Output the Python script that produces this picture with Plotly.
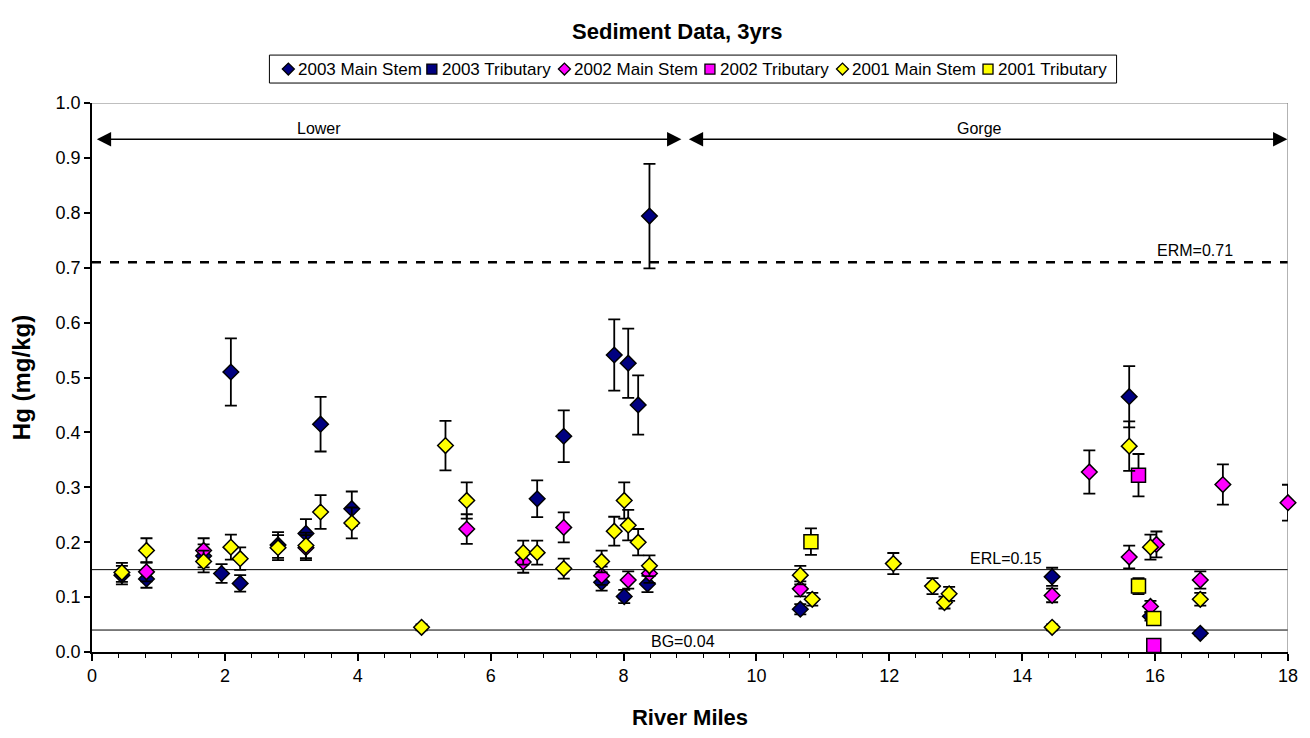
import plotly.graph_objects as go

# ---- Sediment mercury data (river mile, Hg mg/kg) ----
ms2003_x = [0.45, 0.82, 1.68, 1.95, 2.09, 2.23, 2.80, 3.22, 3.44, 3.91, 6.70, 7.10,
            7.67, 7.86, 8.01, 8.07, 8.22, 8.36, 8.39, 10.66, 14.45, 15.61, 15.93, 16.68]
ms2003_y = [0.140, 0.133, 0.175, 0.143, 0.510, 0.125, 0.195, 0.216, 0.415, 0.261, 0.279, 0.393,
            0.127, 0.541, 0.101, 0.526, 0.450, 0.124, 0.794, 0.078, 0.137, 0.465, 0.065, 0.034]

# no tributary samples were collected in 2003
tr2003_x = []
tr2003_y = []

ms2002_x = [0.82, 1.68, 3.22, 5.64, 6.49, 7.10, 7.67, 8.07, 8.39, 10.66, 14.45, 15.01,
            15.61, 15.93, 16.02, 16.68, 17.02, 18.00]
ms2002_y = [0.146, 0.185, 0.190, 0.224, 0.164, 0.227, 0.139, 0.131, 0.143, 0.115, 0.103, 0.328,
            0.173, 0.083, 0.196, 0.131, 0.305, 0.272]

tr2002_x = [15.75, 15.98]
tr2002_y = [0.322, 0.012]

ms2001_x = [0.45, 0.82, 1.68, 2.09, 2.23, 2.80, 3.22, 3.44, 3.91, 4.96, 5.32, 5.64, 6.49,
            6.70, 7.10, 7.67, 7.86, 8.01, 8.07, 8.22, 8.39, 10.66, 10.84, 12.06, 12.65,
            12.83, 12.90, 14.45, 15.61, 15.93, 16.68]
ms2001_y = [0.145, 0.185, 0.165, 0.191, 0.170, 0.190, 0.194, 0.255, 0.235, 0.045, 0.376, 0.276, 0.181,
            0.181, 0.152, 0.165, 0.220, 0.276, 0.231, 0.200, 0.157, 0.140, 0.096, 0.161, 0.120,
            0.090, 0.106, 0.045, 0.375, 0.191, 0.096]

tr2001_x = [10.82, 15.75, 15.98]
tr2001_y = [0.201, 0.120, 0.061]

# analytical uncertainty, percent of value
err_pct = 12

# screening levels
erm = 0.71
erl = 0.15
bg = 0.04

FONT = "Liberation Sans"
NAVY = "#000080"
MAGENTA = "#FF00FF"
YELLOW = "#FFFF00"

# plot-area geometry in pixels
W, H = 1310, 738
ML, MR, MT, MB = 92, 18, 103, 85
PW, PH = W - ML - MR, H - MT - MB


def px_to_paper(px, py):
    return (px - ML) / PW, (H - MB - py) / PH


fig = go.Figure()

series = [
    ("2003 Main Stem", ms2003_x, ms2003_y, NAVY, "diamond"),
    ("2003 Tributary", tr2003_x, tr2003_y, NAVY, "square"),
    ("2002 Main Stem", ms2002_x, ms2002_y, MAGENTA, "diamond"),
    ("2002 Tributary", tr2002_x, tr2002_y, MAGENTA, "square"),
    ("2001 Main Stem", ms2001_x, ms2001_y, YELLOW, "diamond"),
    ("2001 Tributary", tr2001_x, tr2001_y, YELLOW, "square"),
]

for name, xs, ys, color, symbol in series:
    fig.add_trace(go.Scatter(
        x=xs, y=ys, mode="markers", name=name, showlegend=False,
        marker=dict(symbol=symbol, size=12 if symbol == "diamond" else 14, color=color,
                    line=dict(color="black", width=1.5)),
        error_y=dict(type="percent", value=err_pct, color="black",
                     thickness=1.8, width=6),
        cliponaxis=False,
    ))

# reference lines
fig.add_hline(y=erm, line=dict(color="black", width=2.5, dash="dash"), layer="below")
fig.add_hline(y=erl, line=dict(color="black", width=1), layer="below")
fig.add_hline(y=bg, line=dict(color="black", width=1), layer="below")

# plot-area border (top and right)
fig.add_shape(type="line", xref="x", yref="y", x0=0, x1=18, y0=1, y1=1,
              line=dict(color="#808080", width=1.2), layer="below")
fig.add_shape(type="line", xref="x", yref="y", x0=18, x1=18, y0=0, y1=1,
              line=dict(color="#808080", width=1.2), layer="below")

txt = dict(family=FONT, size=16, color="black")
fig.add_annotation(x=16.6, y=erm, text="ERM=0.71", showarrow=False, yanchor="bottom",
                   yshift=1, font=txt)
fig.add_annotation(x=13.75, y=erl, text="ERL=0.15", showarrow=False, yanchor="bottom",
                   yshift=1, font=txt)
fig.add_annotation(x=8.9, y=bg, text="BG=0.04", showarrow=False, yanchor="top",
                   yshift=-1, font=txt)

# reach extents
arrow_y = 0.934
for (x0, x1) in [(0.05, 8.87), (8.96, 17.99)]:
    fig.add_annotation(x=x1, y=arrow_y, ax=x0, ay=arrow_y, xref="x", yref="y",
                       axref="x", ayref="y", text="", showarrow=True,
                       arrowhead=2, startarrowhead=2, arrowside="end+start",
                       arrowsize=2.2, startarrowsize=2.2, arrowwidth=1.3,
                       arrowcolor="black", standoff=0, startstandoff=0)
fig.add_annotation(x=3.42, y=arrow_y, text="Lower", showarrow=False, yanchor="bottom",
                   yshift=0, font=txt)
fig.add_annotation(x=13.36, y=arrow_y, text="Gorge", showarrow=False, yanchor="bottom",
                   yshift=0, font=txt)

# ---- legend: boxed row of marker + label entries above the plot ----
bx0, by1 = px_to_paper(270, 55)
bx1, by0 = px_to_paper(1120, 83)
fig.add_shape(type="rect", xref="paper", yref="paper", x0=bx0, x1=bx1, y0=by0, y1=by1,
              line=dict(color="black", width=1), fillcolor="white", layer="above")
legend_px = [289, 433, 566, 712, 845, 991]
_, ly = px_to_paper(0, 69)
diamond_path = "M -6,0 L 0,6 L 6,0 L 0,-6 Z"
square_path = "M -5,-5 L 5,-5 L 5,5 L -5,5 Z"
for (name, _xs, _ys, color, symbol), cx in zip(series, legend_px):
    lx, _ = px_to_paper(cx, 69)
    fig.add_shape(type="path", xref="paper", yref="paper",
                  xsizemode="pixel", ysizemode="pixel", xanchor=lx, yanchor=ly,
                  path=diamond_path if symbol == "diamond" else square_path,
                  fillcolor=color, line=dict(color="black", width=1.3), layer="above")
    tx, _ = px_to_paper(cx + 8, 69)
    fig.add_annotation(x=tx, y=ly, xref="paper", yref="paper", text=name,
                       showarrow=False, xanchor="left", yanchor="middle",
                       font=dict(family=FONT, size=17, color="black"))

fig.update_layout(
    width=W, height=H,
    margin=dict(l=ML, r=MR, t=MT, b=MB),
    paper_bgcolor="white", plot_bgcolor="white",
    font=dict(family=FONT, size=18, color="black"),
    title=dict(text="<b>Sediment Data, 3yrs</b>", x=0.517, xanchor="center",
               y=0.958, yanchor="middle", font=dict(family=FONT, size=22)),
    showlegend=False,
)

fig.update_xaxes(range=[0, 18], dtick=2, tick0=0, showgrid=False, zeroline=False,
                 showline=True, linecolor="black", linewidth=1.5,
                 ticks="outside", ticklen=7, tickwidth=1.5, tickcolor="black",
                 minor=dict(dtick=0.4, ticks="outside", ticklen=4, tickwidth=1.2,
                            tickcolor="black", showgrid=False),
                 tickfont=dict(size=18),
                 title=dict(text="<b>River Miles</b>", font=dict(size=22), standoff=24))
fig.update_yaxes(range=[0, 1], dtick=0.1, tick0=0, tickformat=".1f", showgrid=False,
                 zeroline=False, showline=True, linecolor="black", linewidth=1.5,
                 ticks="outside", ticklen=6, tickwidth=1.5, tickcolor="black",
                 tickfont=dict(size=18),
                 title=dict(text="<b>Hg (mg/kg)</b>", font=dict(size=24), standoff=18))

fig.write_html("out.html")
